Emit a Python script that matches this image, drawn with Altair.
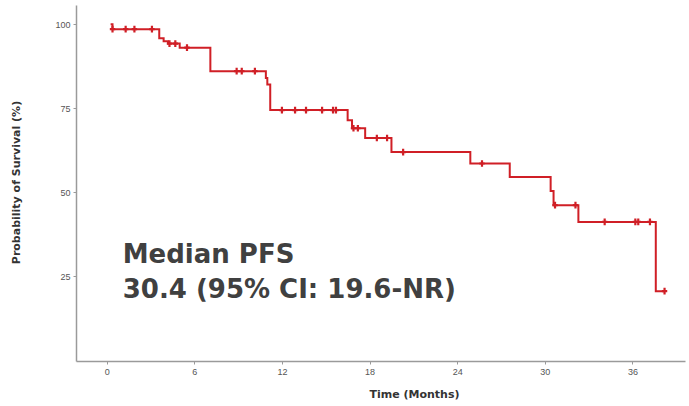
import altair as alt
import pandas as pd

# Kaplan-Meier step curve (months, survival %)
step_time = [0.27, 0.4, 3.6, 3.9, 4.2, 5.0, 7.1, 10.9, 11.0, 11.2, 16.5, 16.8, 17.7, 19.5, 24.9, 27.6, 30.4, 30.6, 32.3, 37.6, 38.2]
step_surv = [100, 98.5, 95.8, 94.9, 94.2, 93.0, 86.0, 84.0, 82.0, 74.4, 71.4, 69.0, 66.1, 61.9, 58.5, 54.5, 50.3, 46.1, 41.1, 20.5, 20.5]

# censor marks
cens_time = [0.4, 1.3, 1.9, 3.1, 4.3, 4.7, 5.5, 8.9, 9.25, 10.15, 12.0, 12.9, 13.65, 14.75, 15.5, 15.7,
             16.9, 17.2, 18.5, 19.2, 20.3, 25.7, 30.7, 32.1, 34.1, 36.2, 36.4, 37.2, 38.2]
cens_surv = [98.5, 98.5, 98.5, 98.5, 94.2, 94.2, 93.0, 86.0, 86.0, 86.0, 74.4, 74.4, 74.4, 74.4, 74.4, 74.4,
             69.0, 69.0, 66.1, 66.1, 61.9, 58.5, 46.1, 46.1, 41.1, 41.1, 41.1, 41.1, 20.5]

x_ticks = [0, 6, 12, 18, 24, 30, 36]
y_ticks = [25, 50, 75, 100]

ann_text = ["Median PFS", "30.4 (95% CI: 19.6-NR)"]
ann_x = [1.1, 1.1]
ann_y = [28.9, 18.6]

steps = pd.DataFrame({"t": step_time, "s": step_surv})
cens = pd.DataFrame({"t": cens_time, "s": cens_surv})
ann = pd.DataFrame({"label": ann_text, "t": ann_x, "s": ann_y})

RED = "#d01f26"

xscale = alt.Scale(domain=[-2.1, 39.6], nice=False, zero=False)
yscale = alt.Scale(domain=[-0.3, 105.7], nice=False, zero=False)

xaxis = alt.Axis(values=x_ticks, title="Time (Months)", grid=False, titleX=338, titleY=27)
yaxis = alt.Axis(values=y_ticks, title="Probability of Survival (%)", grid=False, titleX=-55, titleY=177)

line = alt.Chart(steps).mark_line(interpolate="step-after", color=RED, strokeWidth=2).encode(
    x=alt.X("t:Q", scale=xscale, axis=xaxis),
    y=alt.Y("s:Q", scale=yscale, axis=yaxis),
)

marks = alt.Chart(cens).mark_point(
    shape="M0,-1L0,1M-0.8,0L0.8,0", color=RED, strokeWidth=2.2, size=45, opacity=1
).encode(x=alt.X("t:Q", scale=xscale), y=alt.Y("s:Q", scale=yscale))

text = alt.Chart(ann).mark_text(
    align="left", baseline="alphabetic", font="DejaVu Sans", fontWeight="bold",
    fontSize=26, color="#404040"
).encode(x=alt.X("t:Q", scale=xscale), y=alt.Y("s:Q", scale=yscale), text="label:N")

chart = (line + marks + text).properties(
    width=609, height=356,
    autosize=alt.AutoSizeParams(type="none"),
    padding={"left": 76, "top": 5, "right": 4, "bottom": 45},
).configure_view(stroke=None).configure_axis(
    domainColor="#9a9a9a", domainWidth=1.5, tickColor="#9a9a9a", tickSize=3,
    labelFont="Liberation Sans", labelFontSize=9, labelColor="#555555", labelPadding=3,
    titleFont="DejaVu Sans", titleFontSize=11, titleFontWeight="bold", titleColor="#333333",
).configure_axisY(titleAngle=270)

chart.save("out.html", embed_options={"renderer": "svg", "actions": False})
